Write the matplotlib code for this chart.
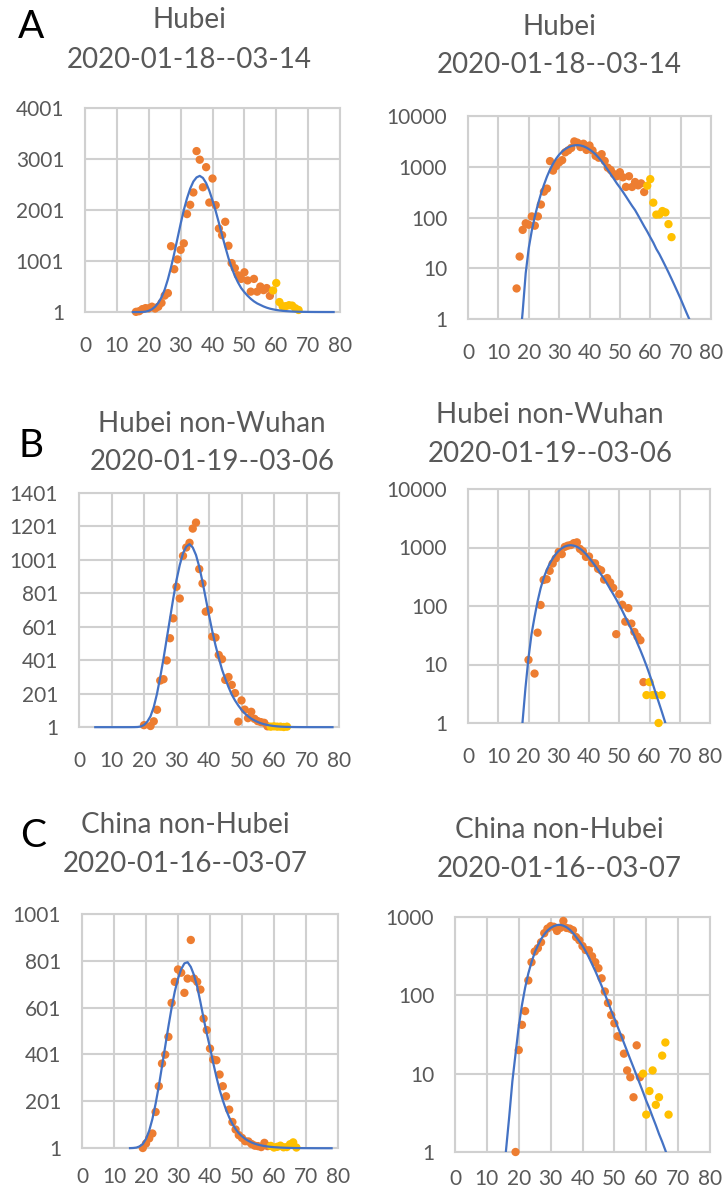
import numpy as np
import matplotlib.pyplot as plt
from matplotlib.ticker import FixedLocator

# =========================================================
# DATOS  (casos diarios)
# =========================================================
# --- Hubei ---
hubei_dias = list(range(16, 59))
hubei_casos = [4, 17, 57, 77, 72, 105, 69, 105, 180, 323,
               371, 1291, 840, 1032, 1220, 1347, 1921, 2103, 2345, 3156,
               2987, 2447, 2841, 2147, 2618, 2097, 1638, 1508, 1770, 1300,
               960, 860, 720, 650, 780, 620, 400, 650, 400, 500,
               430, 470, 318]
hubei_dias_am = list(range(59, 68))
hubei_casos_am = [423, 570, 196, 114, 115, 134, 126, 74, 41]
hubei_aj_dias = list(range(15, 79))
hubei_ajuste = [0.005, 0.03, 0.3, 1.4, 8, 25, 55, 105, 180, 290,
                440, 640, 880, 1150, 1440, 1730, 2000, 2230, 2420, 2560,
                2640, 2670, 2630, 2530, 2380, 2190, 1980, 1750, 1510, 1280,
                1060, 870, 710, 580, 470, 390, 320, 260, 210, 170,
                140, 110, 86, 67, 53, 41, 32, 24, 19, 14.5,
                11, 8.3, 6.2, 4.6, 3.4, 2.5, 1.8, 1.3, 0.95, 0.7,
                0.5, 0.35, 0.25, 0.18]

# --- Hubei non-Wuhan ---
nowuhan_dias = [20] + list(range(22, 59))
nowuhan_casos = [12, 7, 35, 104, 279, 287, 399, 532, 651, 840,
                 770, 1025, 1075, 1103, 1188, 1224, 946, 860, 691, 701,
                 542, 536, 432, 407, 283, 300, 253, 204, 33, 160,
                 105, 54, 92, 50, 36, 30, 26, 5]
nowuhan_dias_am = list(range(59, 65))
nowuhan_casos_am = [3, 5, 3, 3, 1, 3]
nowuhan_aj_dias = list(range(5, 79))
nowuhan_ajuste = [0, 0, 0, 0, 0, 0, 0, 0, 0, 0,
                  0.02, 0.08, 0.3, 1.0, 4, 13, 33, 65, 120, 200,
                  300, 410, 530, 650, 770, 880, 970, 1040, 1080, 1095,
                  1075, 1030, 960, 870, 770, 670, 575, 490, 415, 345,
                  290, 240, 195, 160, 130, 104, 83, 65, 51, 40,
                  31, 23, 17.5, 13, 9.5, 6.8, 4.8, 3.3, 2.3, 1.6,
                  1.1, 0.75, 0.5, 0.33, 0.21, 0.13, 0.08, 0.05, 0.03, 0.02,
                  0.01, 0.006, 0.004, 0.002]

# --- China non-Hubei ---
china_dias = list(range(19, 59))
china_casos = [1, 20, 42, 63, 155, 265, 362, 400, 476, 621,
               711, 764, 750, 664, 725, 890, 725, 711, 678, 554,
               505, 426, 379, 376, 315, 265, 222, 165, 112, 80,
               56, 44, 30, 29, 18, 11, 9, 5, 23, 9]
china_dias_am = list(range(59, 68))
china_casos_am = [10, 3, 6, 11, 4, 5, 17, 25, 3]
china_aj_dias = list(range(15, 79))
china_ajuste = [0.4, 1.05, 2.8, 8, 18, 40, 75, 125, 190, 265,
                350, 435, 520, 600, 670, 725, 765, 790, 795, 775,
                740, 690, 625, 555, 490, 430, 365, 305, 250, 205,
                165, 132, 104, 82, 64, 51, 40, 31.5, 24.7, 19.4,
                15.2, 12, 9.4, 7.4, 5.8, 4.5, 3.6, 2.8, 2.2, 1.7,
                1.35, 1.05, 0.8, 0.6, 0.45, 0.33, 0.24, 0.17, 0.12, 0.08,
                0.05, 0.03, 0.02, 0.01]

x_ticks = list(range(0, 81, 10))

# =========================================================
# ESTILO
# =========================================================
plt.rcParams['font.family'] = ['Lato', 'DejaVu Sans']
NARANJA = "#ED7D31"
AMARILLO = "#FFC000"
AZUL = "#4472C4"
GRIS_TXT = "#595959"
GRIS_REJ = "#d0d0d0"

W, H = 724, 1193
fig = plt.figure(figsize=(W / 100, H / 100), dpi=100)


def caja(l, r, t, b):
    # pixeles -> fracción de figura
    return [l / W, 1 - b / H, (r - l) / W, (b - t) / H]


paneles = [
    # (caja, serie, log, ymax, yticks, pad eje x)
    (caja(85, 340, 108, 312), "hubei", False, 4001, [1, 1001, 2001, 3001, 4001], 17),
    (caja(468, 711, 116, 319), "hubei", True, 10000, [1, 10, 100, 1000, 10000], 17),
    (caja(79, 339, 493, 727), "nowuhan", False, 1401, list(range(1, 1402, 200)), 17),
    (caja(468, 710, 489, 723), "nowuhan", True, 10000, [1, 10, 100, 1000, 10000], 17),
    (caja(82, 338, 914, 1148), "china", False, 1001, list(range(1, 1002, 200)), 14),
    (caja(455, 710, 917, 1152), "china", True, 1000, [1, 10, 100, 1000], 12),
]

series = {
    "hubei": (hubei_dias, hubei_casos, hubei_dias_am, hubei_casos_am,
              hubei_aj_dias, hubei_ajuste),
    "nowuhan": (nowuhan_dias, nowuhan_casos, nowuhan_dias_am, nowuhan_casos_am,
                nowuhan_aj_dias, nowuhan_ajuste),
    "china": (china_dias, china_casos, china_dias_am, china_casos_am,
              china_aj_dias, china_ajuste),
}

# =========================================================
# GRAFICAR
# =========================================================
for pos, clave, es_log, ymax, yt, xpad in paneles:
    ax = fig.add_axes(pos)
    d, c, da, ca, xa, ya = series[clave]

    ax.scatter(d, c, s=36, color=NARANJA, edgecolors="none", zorder=3, clip_on=False)
    ax.scatter(da, ca, s=36, color=AMARILLO, edgecolors="none", zorder=3, clip_on=False)
    # en lineal la curva baja hasta ~0 y se dibuja sobre el eje
    ax.plot(xa, ya, color=AZUL, lw=1.6, zorder=4, clip_on=es_log)

    if es_log:
        ax.set_yscale("log")
    ax.set_xlim(0, 80)
    ax.set_ylim(1, ymax)
    ax.xaxis.set_major_locator(FixedLocator(x_ticks))
    ax.yaxis.set_major_locator(FixedLocator(yt))
    ax.yaxis.set_minor_locator(FixedLocator([]))
    ax.set_yticklabels([str(v) for v in yt])
    ax.set_xticklabels([str(v) for v in x_ticks])

    ax.grid(True, color=GRIS_REJ, lw=1.5, zorder=0)
    ax.set_axisbelow(True)
    for s in ax.spines.values():
        s.set_color(GRIS_REJ)
        s.set_linewidth(1.5)
    ax.tick_params(axis="both", length=0, labelsize=15, colors=GRIS_TXT)
    ax.tick_params(axis="x", pad=xpad)
    ax.tick_params(axis="y", pad=15)

# =========================================================
# TÍTULOS Y LETRAS
# =========================================================
titulos = [
    (189, 28, 68, "Hubei", "2020-01-18--03-14"),
    (559, 35, 73, "Hubei", "2020-01-18--03-14"),
    (212, 432, 470, "Hubei non-Wuhan", "2020-01-19--03-06"),
    (550, 423, 462, "Hubei non-Wuhan", "2020-01-19--03-06"),
    (185, 833, 872, "China non-Hubei", "2020-01-16--03-07"),
    (559, 838, 877, "China non-Hubei", "2020-01-16--03-07"),
]
for xc, y1, y2, t1, t2 in titulos:
    fig.text(xc / W, 1 - y1 / H, t1, ha="center", va="baseline",
             fontsize=20, color=GRIS_TXT)
    fig.text(xc / W, 1 - y2 / H, t2, ha="center", va="baseline",
             fontsize=20, color=GRIS_TXT)

for letra, xl, yl in [("A", 18, 38), ("B", 18, 457), ("C", 20, 847)]:
    fig.text(xl / W, 1 - yl / H, letra, ha="left", va="baseline",
             fontsize=28, color="black")

fig.savefig("out.png", dpi=100)
